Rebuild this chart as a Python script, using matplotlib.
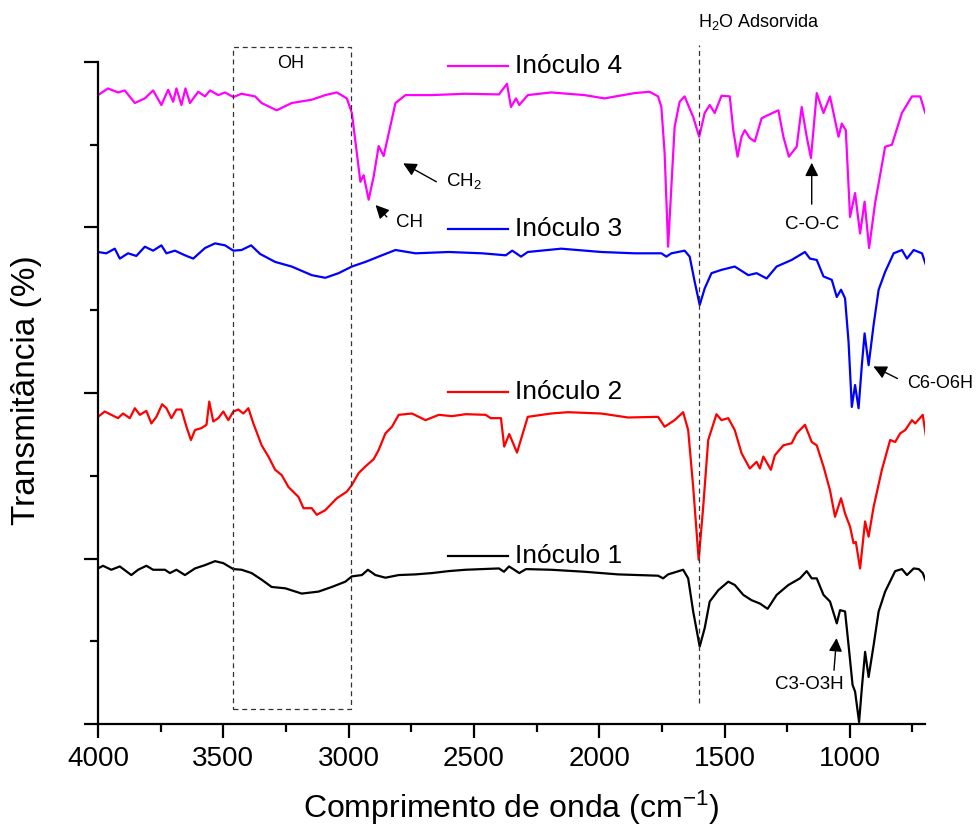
import matplotlib.pyplot as plt
from matplotlib.ticker import MultipleLocator

plt.rcParams['font.family'] = ['Liberation Sans', 'DejaVu Sans']
plt.rcParams['mathtext.fontset'] = 'custom'
plt.rcParams['mathtext.rm'] = 'Liberation Sans'
plt.rcParams['mathtext.it'] = 'Liberation Sans:italic'

# espectros (numero de onda, transmitancia deslocada)
wn_4 = [4000, 3960, 3920, 3893, 3853, 3813, 3780, 3747, 3720, 3700, 3687, 3667, 3651, 3633,
        3600, 3573, 3553, 3520, 3493, 3460, 3427, 3373, 3347, 3287, 3227, 3147, 3093, 3047,
        3007, 2987, 2967, 2953, 2940, 2920, 2900, 2880, 2860, 2840, 2813, 2773, 2667, 2533,
        2400, 2368, 2352, 2332, 2319, 2285, 2192, 2059, 1979, 1859, 1799, 1765, 1752, 1739,
        1725, 1712, 1699, 1679, 1659, 1645, 1625, 1601, 1579, 1559, 1539, 1512, 1479, 1465,
        1448, 1432, 1419, 1399, 1379, 1352, 1325, 1285, 1265, 1243, 1212, 1192, 1172, 1155,
        1132, 1105, 1079, 1045, 1032, 1016, 999, 979, 959, 941, 923, 899, 859, 832, 792,
        752, 719, 699]
t_4 = [95.0, 96.0, 95.4, 95.7, 93.8, 94.5, 95.7, 93.5, 95.8, 94.0, 96.0, 93.5, 96.0, 93.8,
       95.5, 94.8, 95.7, 95.0, 95.4, 94.7, 95.2, 94.8, 93.8, 92.7, 93.8, 94.3, 95.0, 95.4,
       94.5, 92.3, 86.2, 81.9, 82.9, 79.2, 82.7, 87.3, 85.8, 89.2, 93.8, 95.0, 95.0, 95.2,
       95.1, 96.7, 93.2, 94.5, 93.5, 95.0, 95.4, 95.0, 94.5, 95.3, 95.5, 94.8, 93.2, 86.3,
       72.1, 81.2, 90.2, 94.0, 94.8, 93.5, 91.7, 88.7, 92.3, 93.5, 92.3, 94.9, 94.8, 89.7,
       85.7, 88.7, 89.7, 88.5, 88.0, 91.5, 92.0, 92.7, 88.7, 85.7, 87.2, 93.2, 88.7, 85.5,
       95.3, 92.3, 94.8, 88.7, 90.7, 89.7, 76.6, 80.2, 74.1, 78.9, 71.9, 78.7, 87.2, 87.5, 92.3,
       94.8, 94.8, 92.3]

wn_3 = [4000, 3967, 3933, 3913, 3880, 3847, 3813, 3780, 3747, 3727, 3693, 3653, 3620, 3573,
        3533, 3493, 3460, 3427, 3389, 3353, 3293, 3227, 3147, 3093, 3040, 2987, 2933, 2867,
        2813, 2733, 2600, 2467, 2373, 2347, 2312, 2285, 2152, 1992, 1859, 1752, 1732, 1712,
        1659, 1639, 1619, 1599, 1579, 1552, 1512, 1459, 1405, 1372, 1332, 1292, 1232, 1179,
        1159, 1132, 1105, 1072, 1052, 1035, 1019, 1005, 992, 979, 965, 952, 941, 925, 905,
        885, 859, 825, 792, 772, 745, 712, 696]
t_3 = [71.3, 71.1, 71.8, 70.3, 71.1, 70.7, 72.1, 71.5, 72.3, 71.1, 71.5, 70.8, 70.3, 71.9,
       72.6, 72.3, 71.5, 71.6, 72.3, 71.0, 69.8, 69.1, 67.8, 67.4, 68.1, 69.1, 69.8, 70.8,
       71.6, 71.1, 71.3, 71.1, 70.8, 71.5, 70.6, 71.3, 71.8, 71.3, 71.1, 71.1, 70.6, 71.1,
       71.5, 70.6, 66.8, 63.3, 65.8, 68.1, 68.6, 69.1, 67.8, 68.1, 67.3, 69.1, 70.1, 71.3,
       70.3, 70.1, 67.6, 67.1, 64.5, 65.6, 64.3, 57.7, 47.9, 51.2, 47.7, 54.2, 59.0, 54.2, 60.3,
       65.6, 68.3, 71.1, 71.6, 70.3, 71.6, 71.1, 69.3]

wn_2 = [4000, 3973, 3947, 3920, 3900, 3873, 3853, 3833, 3807, 3787, 3767, 3744, 3727, 3707,
        3687, 3667, 3647, 3629, 3613, 3587, 3567, 3556, 3540, 3520, 3500, 3480, 3460, 3440,
        3420, 3400, 3380, 3347, 3320, 3293, 3267, 3240, 3200, 3180, 3147, 3127, 3093, 3047,
        3007, 2987, 2960, 2933, 2900, 2880, 2853, 2827, 2800, 2747, 2693, 2640, 2587, 2533,
        2453, 2433, 2392, 2379, 2359, 2328, 2285, 2192, 2125, 1992, 1885, 1765, 1739, 1699,
        1665, 1645, 1625, 1603, 1585, 1565, 1532, 1512, 1485, 1459, 1432, 1399, 1372, 1359,
        1345, 1315, 1299, 1265, 1232, 1212, 1179, 1152, 1132, 1105, 1079, 1059, 1035, 1019,
        999, 985, 976, 959, 939, 925, 905, 872, 839, 819, 799, 779, 752, 739, 709, 696]
t_2 = [46.4, 47.2, 46.7, 46.2, 46.9, 46.2, 47.7, 46.7, 47.3, 45.4, 46.4, 48.3, 47.7, 46.2,
       47.5, 47.5, 44.9, 42.9, 44.4, 44.7, 45.2, 48.7, 45.7, 46.2, 47.2, 45.9, 47.2, 47.5,
       46.9, 47.7, 45.4, 42.1, 40.4, 38.4, 37.6, 35.8, 34.3, 32.6, 32.6, 31.6, 32.3, 34.1,
       35.1, 36.1, 37.9, 38.9, 40.0, 41.4, 43.9, 44.9, 46.7, 46.9, 45.9, 46.7, 46.5, 46.8,
       46.7, 46.2, 46.2, 41.9, 43.8, 41.0, 46.4, 46.9, 47.1, 46.9, 46.3, 46.4, 44.9, 45.9,
       47.1, 44.4, 35.8, 24.8, 32.8, 42.9, 46.8, 45.9, 46.2, 44.4, 40.9, 38.6, 39.6, 38.6,
       40.4, 38.4, 40.6, 42.1, 42.4, 43.9, 45.2, 42.6, 42.1, 38.9, 35.3, 31.3, 34.1, 31.8,
       29.8, 27.3, 27.5, 23.5, 30.6, 28.3, 32.8, 38.4, 42.9, 42.6, 43.9, 44.4, 45.9, 45.4,
       46.7, 43.4]

wn_1 = [4000, 3980, 3947, 3913, 3867, 3840, 3807, 3780, 3733, 3713, 3687, 3653, 3613, 3573,
        3533, 3500, 3460, 3427, 3387, 3347, 3307, 3253, 3187, 3120, 3067, 3013, 2987, 2947,
        2923, 2893, 2853, 2800, 2733, 2667, 2600, 2533, 2467, 2400, 2380, 2360, 2339, 2319,
        2292, 2192, 2059, 1925, 1765, 1745, 1725, 1665, 1645, 1625, 1599, 1579, 1559, 1525,
        1485, 1459, 1425, 1392, 1359, 1328, 1292, 1245, 1199, 1172, 1152, 1132, 1105, 1079,
        1052, 1039, 1019, 1005, 989, 979, 963, 952, 939, 925, 905, 885, 859, 819, 792, 772,
        745, 725, 709, 696]
t_1 = [23.5, 23.9, 23.3, 23.8, 22.5, 23.3, 23.9, 23.3, 23.3, 22.8, 23.3, 22.5, 23.5, 24.0,
       24.6, 24.3, 23.4, 23.3, 22.8, 21.8, 20.7, 20.5, 19.7, 20.0, 20.7, 21.5, 22.3, 22.5,
       23.3, 22.5, 22.1, 22.5, 22.6, 22.8, 23.1, 23.3, 23.4, 23.5, 23.0, 23.8, 23.3, 22.8,
       23.4, 23.3, 23.0, 22.6, 22.4, 22.0, 22.6, 23.3, 22.0, 17.0, 11.7, 14.5, 18.5, 20.2,
       21.5, 21.0, 19.5, 18.7, 18.2, 17.4, 19.5, 21.0, 22.0, 23.1, 22.0, 22.0, 19.5, 18.5,
       15.2, 17.2, 17.0, 11.9, 5.9, 4.9, 0.3, 5.4, 10.9, 7.1, 11.9, 17.0, 20.0, 23.1, 23.4, 22.5,
       23.5, 23.4, 22.8, 21.5]

series = [
    (wn_1, t_1, 'black', 'Inóculo 1', 25.4),
    (wn_2, t_2, '#ff0000', 'Inóculo 2', 50.2),
    (wn_3, t_3, '#0000ff', 'Inóculo 3', 74.8),
    (wn_4, t_4, '#ff00ff', 'Inóculo 4', 99.4),
]

fig = plt.figure(figsize=(9.78, 8.32), dpi=100)
ax = fig.add_axes([0.1002, 0.1298, 0.8456, 0.7957])

for wn, t, cor, nome, ylab in series:
    ax.plot(wn, t, color=cor, lw=1.6)
    # rotulo estilo Origin: traco + texto
    ax.plot([2604, 2364], [ylab, ylab], color=cor, lw=1.6, clip_on=False)
    ax.text(2335, ylab, nome, fontsize=19, va='center', ha='left')

# regiao OH
ax.plot([3460, 2990, 2990, 3460, 3460], [2.3, 2.3, 102.3, 102.3, 2.3],
        ls=(0, (4, 3)), color='#333333', lw=0.9, clip_on=False)
ax.text(3232, 99.7, 'OH', fontsize=13, ha='center', va='center')

# agua adsorvida
ax.plot([1600, 1600], [3.2, 102.6], ls=(0, (4, 3)), color='#333333', lw=0.9, clip_on=False)
ax.text(1604, 106.0, r'H$_2$O Adsorvida', fontsize=13, ha='left', va='center')

seta = dict(arrowstyle='-|>', color='black', lw=1.0, mutation_scale=20)
ax.annotate('', xy=(2792, 84.9), xytext=(2640, 81.7), arrowprops=seta)
ax.text(2612, 82.0, r'CH$_2$', fontsize=13.5, ha='left', va='center')
ax.annotate('', xy=(2900, 78.7), xytext=(2840, 76.3), arrowprops=seta)
ax.text(2812, 75.8, 'CH', fontsize=13.5, ha='left', va='center')
ax.annotate('', xy=(1152, 85.2), xytext=(1152, 78.1), arrowprops=seta)
ax.text(1152, 75.5, 'C-O-C', fontsize=13.5, ha='center', va='center')
ax.annotate('', xy=(916, 54.2), xytext=(800, 52.0), arrowprops=seta)
ax.text(772, 51.5, 'C6-O6H', fontsize=13, ha='left', va='center')
ax.annotate('', xy=(1052, 13.4), xytext=(1064, 7.7), arrowprops=seta)
ax.text(1160, 6.0, 'C3-O3H', fontsize=13.5, ha='center', va='center')

ax.set_xlim(4000, 700)
ax.set_ylim(0, 100)
ax.set_xticks([4000, 3500, 3000, 2500, 2000, 1500, 1000])
ax.xaxis.set_minor_locator(MultipleLocator(250))
ax.set_yticks([0, 25, 50, 75, 100])
ax.yaxis.set_minor_locator(MultipleLocator(12.5))
ax.set_yticklabels([])
ax.spines['top'].set_visible(False)
ax.spines['right'].set_visible(False)
for s in ['left', 'bottom']:
    ax.spines[s].set_linewidth(1.6)
ax.tick_params(which='major', direction='out', length=10, width=1.6, labelsize=20, pad=6)
ax.tick_params(which='minor', direction='out', length=6, width=1.6)

fig.text(511 / 978, 1 - 808 / 832, r'Comprimento de onda (cm$^{\mathregular{-1}}$)',
         fontsize=23, ha='center', va='center')
fig.text(27 / 978, 1 - 390 / 832, 'Transmitância (%)', fontsize=24,
         ha='center', va='center', rotation=90)

fig.savefig('out.png', dpi=100)
